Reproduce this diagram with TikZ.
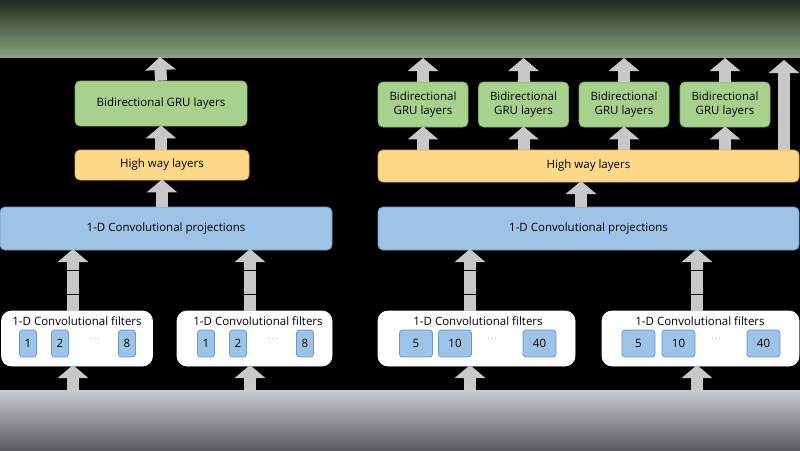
\documentclass[tikz,border=0pt]{standalone}
\usepackage{fontspec}
\setmainfont{Open Sans}
\usetikzlibrary{arrows.meta}
\definecolor{grufill}{HTML}{A9D18E}
\definecolor{gruline}{HTML}{7FAE64}
\definecolor{hwfill}{HTML}{FFD98A}
\definecolor{hwline}{HTML}{E6B04A}
\definecolor{convfill}{HTML}{9DC3E6}
\definecolor{convline}{HTML}{6B9BCB}
\definecolor{arrowgray}{HTML}{C8C8C8}
\definecolor{bandtop}{HTML}{8AA680}
\definecolor{bandbot}{HTML}{C8CCD0}
\tikzset{
  box/.style={draw,rounded corners=5pt,line width=0.8pt,inner sep=0pt,align=center,
    font=\fontsize{11.5}{14}\selectfont},
  gru/.style={box,fill=grufill,draw=gruline},
  hw/.style={box,fill=hwfill,draw=hwline},
  conv/.style={box,fill=convfill,draw=convline},
  filt/.style={box,fill=white,draw=white,rounded corners=10pt},
  cell/.style={box,fill=convfill,draw=convline,rounded corners=3pt,minimum height=27pt},
  fat/.style={draw=arrowgray,line width=12pt,-{Triangle[width=30pt,length=13pt]},shorten >=-1pt},
}
\begin{document}
\begin{tikzpicture}[x=1pt,y=-1pt]
\useasboundingbox (0,0) rectangle (800,450);
% blurred bands and background
\shade[top color=black!75!bandtop,bottom color=bandtop] (0,0) rectangle (800,58);
\fill[black] (0,58) rectangle (800,390);
\shade[top color=bandbot,bottom color=black!55!bandbot] (0,390) rectangle (800,450);

% left column
\node[gru,minimum width=172pt,minimum height=45pt] (gruL) at (161,103.5) {Bidirectional GRU layers};
\node[hw,minimum width=174pt,minimum height=30pt] (hwL) at (162,165) {High way layers};
\node[conv,minimum width=332pt,minimum height=43pt] (convL) at (166,228.5) {1-D Convolutional projections};
\node[filt,minimum width=151pt,minimum height=55pt] (fA) at (77,338.5) {};
\node[filt,minimum width=155pt,minimum height=55pt] (fB) at (254.5,338.5) {};
\node[font=\fontsize{11.5}{14}\selectfont] at (77,321) {1-D Convolutional filters};
\node[font=\fontsize{11.5}{14}\selectfont] at (258,321) {1-D Convolutional filters};
\foreach \n/\x/\t in {a1/28/1,a2/60/2,a8/127/8,b1/206/1,b2/238/2,b8/305/8}{
  \node[cell,minimum width=17pt] (\n) at (\x,343.5) {\t};
}
\node[font=\scriptsize] at (95,339) {$\cdots$};
\node[font=\scriptsize] at (273,339) {$\cdots$};

\coordinate (topL) at (160,58);
\draw[fat] (gruL.north) -- (topL);
\draw[fat] (hwL.north -| gruL.south) -- (gruL.south);
\draw[fat] (convL.north -| hwL) -- (hwL.south);
\foreach \x/\f in {73/fA,250/fB}{
  \draw[fat] (\x,311) -- (\x,250);
  \draw[black,line width=0.8pt] (\x-6,270) -- (\x+6,270) (\x-6,294) -- (\x+6,294);
  \coordinate (in\f) at (\x,390);
  \draw[fat] (in\f) -- (\x,366);
}

% right column
\foreach \n/\x in {g1/423,g2/523.5,g3/624,g4/725}{
  \node[gru,minimum width=90pt,minimum height=45pt] (\n) at (\x,104.5) {Bidirectional\\GRU layers};
  \coordinate (t\n) at (\x,59);
  \draw[fat] (\n.north) -- (t\n);
  \draw[fat] (\x,150) -- (\n.south);
}
\node[hw,minimum width=421pt,minimum height=32pt] (hwR) at (588.5,166) {High way layers};
\coordinate (skip) at (784,61);
\draw[fat] (784,150) -- (skip);
\node[conv,minimum width=421pt,minimum height=43pt] (convR) at (588.5,228.5) {1-D Convolutional projections};
\draw[fat] (581,207) -- (581,182);
\node[filt,minimum width=197pt,minimum height=55pt] (fC) at (476.5,338.5) {};
\node[filt,minimum width=197pt,minimum height=55pt] (fD) at (700.5,338.5) {};
\node[font=\fontsize{11.5}{14}\selectfont] at (478,321) {1-D Convolutional filters};
\node[font=\fontsize{11.5}{14}\selectfont] at (700,321) {1-D Convolutional filters};
\foreach \n/\x/\t in {c5/416/5,c10/455/10,c40/539.5/40,d5/638.5/5,d10/678.5/10,d40/763.5/40}{
  \node[cell,minimum width=33pt] (\n) at (\x,343.5) {\t};
}
\node[font=\scriptsize] at (492,339) {$\cdots$};
\node[font=\scriptsize] at (716,339) {$\cdots$};
\foreach \x/\f in {470/fC,697/fD}{
  \draw[fat] (\x,311) -- (\x,250);
  \draw[black,line width=0.8pt] (\x-6,270) -- (\x+6,270) (\x-6,294) -- (\x+6,294);
  \coordinate (in\f) at (\x,390);
  \draw[fat] (in\f) -- (\x,366);
}
\end{tikzpicture}
\end{document}
